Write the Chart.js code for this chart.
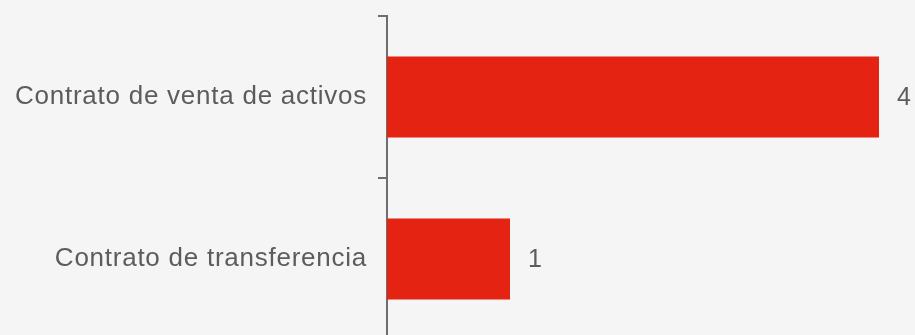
<!DOCTYPE html>
<html>
<head>
<meta charset="utf-8">
<script src="https://cdn.jsdelivr.net/npm/chart.js@4/dist/chart.umd.min.js"></script>
<style>
  html, body { margin: 0; padding: 0; background: #f5f5f5; overflow: hidden; width: 915px; height: 335px; }
  #wrap { position: absolute; left: 0; top: 0; width: 915px; height: 340px; }
</style>
</head>
<body>
<div id="wrap"><canvas id="c"></canvas></div>
<script>
const categories = ["Contrato de venta de activos", "Contrato de transferencia"];
const values = [4, 1];
const barColor = "#e42313";
const textColor = "#5c5c5c";
const axisColor = "#6e6e6e";
const FONT = "'Liberation Sans', Arial, sans-serif";

const spacing = {
  id: 'spacing',
  beforeDraw(chart) { chart.ctx.letterSpacing = '0.75px'; }
};

const valueLabels = {
  id: 'valueLabels',
  afterDatasetsDraw(chart) {
    const ctx = chart.ctx;
    const meta = chart.getDatasetMeta(0);
    ctx.save();
    ctx.letterSpacing = '0px';
    ctx.font = "25px " + FONT;
    ctx.fillStyle = textColor;
    ctx.textAlign = 'left';
    ctx.textBaseline = 'middle';
    meta.data.forEach((bar, i) => {
      ctx.fillText(String(values[i]), bar.x + 18, bar.y + 1);
    });
    ctx.restore();
  }
};

new Chart(document.getElementById('c'), {
  type: 'bar',
  data: {
    labels: categories,
    datasets: [{
      data: values,
      backgroundColor: barColor,
      borderWidth: 0,
      categoryPercentage: 1,
      barPercentage: 0.5
    }]
  },
  options: {
    indexAxis: 'y',
    responsive: true,
    maintainAspectRatio: false,
    animation: false,
    layout: { padding: { top: 16, right: 11.4, bottom: 0, left: 0 } },
    plugins: { legend: { display: false }, tooltip: { enabled: false } },
    scales: {
      x: { display: false, min: 0, max: 4.2 },
      y: {
        afterFit(scale) { scale.width = 387; scale.paddingTop = 0; scale.paddingBottom = 0; },
        border: { display: true, color: axisColor, width: 2 },
        grid: { display: true, drawOnChartArea: false, drawTicks: true, tickLength: 9, color: axisColor, lineWidth: 2, offset: true },
        ticks: { color: textColor, font: { family: FONT, size: 26 }, padding: 11 }
      }
    }
  },
  plugins: [spacing, valueLabels]
});
</script>
</body>
</html>
